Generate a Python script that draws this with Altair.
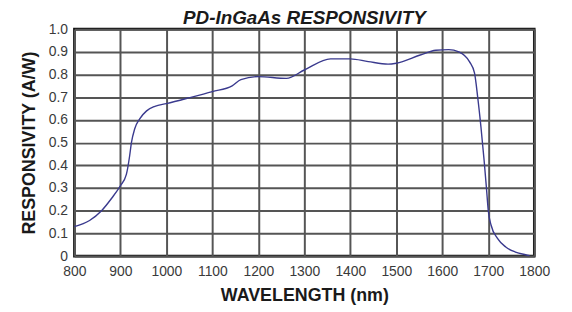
import altair as alt
import pandas as pd

wavelength = [800, 833, 859, 881, 900, 913, 920, 924, 931, 942, 957, 975, 1000, 1050,
              1100, 1143, 1162, 1200, 1261, 1300, 1357, 1400, 1439, 1482, 1500, 1552,
              1586, 1614, 1636, 1659, 1670, 1677, 1684, 1691, 1696, 1700, 1706, 1720,
              1738, 1759, 1781, 1790]
responsivity = [0.13, 0.157, 0.2, 0.255, 0.31, 0.36, 0.44, 0.5, 0.56, 0.605, 0.64, 0.66,
                0.672, 0.698, 0.725, 0.75, 0.778, 0.791, 0.783, 0.82, 0.869, 0.869, 0.857,
                0.846, 0.85, 0.886, 0.907, 0.91, 0.9, 0.857, 0.807, 0.7, 0.57, 0.42, 0.3,
                0.2, 0.137, 0.078, 0.04, 0.018, 0.006, 0.002]

x_ticks = list(range(800, 1801, 100))
y_ticks = [round(i * 0.1, 1) for i in range(11)]

df = pd.DataFrame({"wl": wavelength, "r": responsivity})

FONT = "Liberation Sans"

chart = alt.Chart(df).mark_line(
    color="#3a3a8e", strokeWidth=1.4, interpolate="monotone"
).encode(
    x=alt.X("wl:Q",
            scale=alt.Scale(domain=[800, 1800], nice=False, zero=False),
            axis=alt.Axis(values=x_ticks, title="WAVELENGTH (nm)", format="d",
                          labelOverlap=False, labelFlush=False,
                          labelPadding=9, titlePadding=8)),
    y=alt.Y("r:Q",
            scale=alt.Scale(domain=[0, 1], nice=False),
            axis=alt.Axis(values=y_ticks, title="RESPONSIVITY (A/W)",
                          labelOverlap=False, labelFlush=False,
                          labelExpr="datum.value == 0 ? '0' : format(datum.value, '.1f')",
                          labelPadding=7, titlePadding=10)),
).properties(
    width=464,
    height=229,
    background="white",
    title=alt.TitleParams("PD-InGaAs RESPONSIVITY", font=FONT, fontSize=19,
                          fontStyle="italic", fontWeight="bold", color="#1a1a1a",
                          offset=-6, anchor="middle"),
    autosize=alt.AutoSizeParams(type="none"),
    padding={"left": 67, "top": 20, "right": 30, "bottom": 50},
).configure_view(
    stroke="#111111", strokeWidth=2.6
).configure_axis(
    domain=False, ticks=False, grid=True, gridColor="#555555", gridWidth=2,
    labelFont=FONT, labelFontSize=14, labelColor="#3a3a3a",
    titleFont=FONT, titleFontSize=18, titleFontWeight="bold", titleColor="#1a1a1a",
)

chart.save("out.html", embed_options={"renderer": "svg", "actions": False})
